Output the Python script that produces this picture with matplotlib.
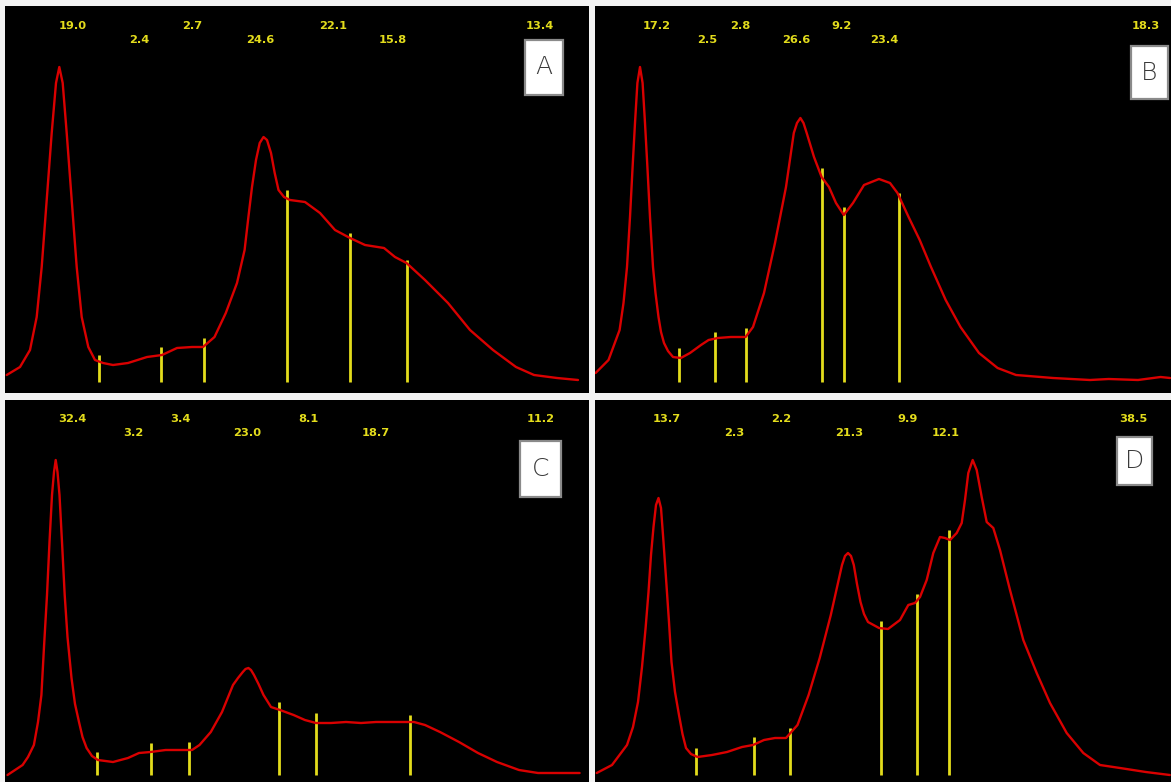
import matplotlib
matplotlib.use("Agg")
import matplotlib.pyplot as plt
from matplotlib.patches import Rectangle

# ---------------- data (panel-local units) ----------------
panels = ["A", "B", "C", "D"]

curve_a_x = [1.7, 15, 25, 31.7, 36.7, 41.7, 46.7, 51, 54.3, 57.7, 61.7, 66.7, 71.7, 76.7, 83.3, 90,
             98, 108, 123, 142, 157, 172, 187, 198, 209.5, 220.8, 232, 239.6, 243.4, 247, 251, 254.7,
             258.5, 262, 266, 269.7, 273.5, 279, 285, 300, 315, 330, 345, 360, 379, 390, 401.5, 420,
             443, 465, 488, 511, 529, 552, 573]
curve_a_y = [18, 26, 43, 76, 126, 193, 260, 310, 326, 310, 260, 193, 126, 76, 46, 33,
             30, 28, 30, 36, 38, 45, 46, 46, 56, 80, 110, 143, 176, 206, 233, 250,
             256, 253, 240, 220, 203, 196, 193, 191, 180, 163, 155, 148, 145, 136, 130, 113,
             90, 63, 43, 26, 18, 15, 13]

curve_b_x = [0.6, 13.5, 24.6, 28.5, 32, 35, 37.6, 40, 42.4, 45, 47.6, 50, 52.4, 55, 58, 60.5, 63.5,
             66, 69, 73, 78, 85.8, 95, 106, 113.6, 122.8, 135.8, 150.6, 158, 169, 180, 191, 198.8,
             202, 205.4, 208.5, 211.7, 219, 226.6, 234, 241, 248.8, 258, 269, 284, 295, 302.5, 313.6,
             324.7, 336, 350.7, 365.5, 384, 402.6, 421, 458, 495, 513.7, 543, 565.6, 575]
curve_b_y = [20, 33, 63, 90, 126, 176, 226, 270, 310, 326, 310, 270, 226, 176, 126, 100, 76,
             61, 50, 42, 36, 35, 40, 48, 53, 55, 56, 56, 66, 100, 150, 206, 260,
             270, 275, 270, 260, 236, 216, 206, 190, 178, 190, 208, 214, 210, 200, 176,
             153, 126, 93, 66, 40, 25, 18, 15, 13, 14, 13, 16, 15]

curve_c_x = [2.5, 17.6, 23, 28.9, 33, 36.4, 39, 42, 44.5, 47, 49, 50.7, 52.5, 54.5, 57, 59.7, 62.5,
             66.5, 70, 74, 77.5, 81.6, 87, 92.9, 108, 123, 134, 145.5, 160.6, 175.7, 187, 194.5,
             205.8, 217, 228, 233, 237.8, 240.5, 243.4, 246, 249, 253.5, 258.5, 266, 275, 288.6,
             299.9, 311, 326, 341, 356, 371, 390, 409, 420, 435, 454, 473, 492, 514, 533, 556, 574.6]
curve_c_y = [7, 17, 25, 37, 60, 87, 135, 187, 240, 287, 310, 322, 310, 287, 240, 187, 145,
             104, 78, 60, 45, 34, 26, 22, 20, 24, 29, 30, 32, 32, 32, 37,
             50, 70, 97, 104, 110, 113, 114, 112, 107, 98, 87, 75, 72, 67,
             62, 59, 59, 60, 59, 60, 60, 60, 57, 50, 40, 29, 20, 12, 9, 9, 9]

curve_d_x = [1.7, 17, 32, 38, 43, 47, 50.6, 53.5, 56, 58.5, 61, 63.5, 66, 68.5, 71, 74, 76.5, 80,
             84, 87.5, 91, 96, 102.5, 117, 132, 147, 158, 169, 180, 191, 202.5, 213.6, 224.7, 235.8,
             247, 250, 253, 256, 258.8, 262, 265.5, 269, 273, 284, 293, 305, 313.3, 320, 325, 331.7,
             338.3, 345, 350, 355, 361.7, 366.7, 370, 373.3, 377.7, 381.7, 386.7, 391.7, 398.3, 405,
             415, 428.3, 441.7, 455, 471.7, 488.3, 505, 525, 550.8, 574.8]
curve_d_y = [9, 17, 37, 55, 80, 115, 154, 190, 227, 255, 277, 284, 274, 240, 204, 160, 120, 90,
             67, 48, 34, 28, 25, 27, 30, 35, 37, 42, 44, 44, 57, 87, 124, 167,
             217, 226, 229, 226, 217, 198, 180, 168, 160, 154, 153, 162, 177, 179, 185, 202,
             229, 245, 244, 242, 249, 259, 282, 309, 322, 312, 285, 260, 254, 232,
             192, 142, 109, 79, 49, 29, 17, 14, 10, 7]

cuts_a_x = [94, 156, 199, 282, 345, 402]
cuts_a_top = [38, 46, 55, 203, 160, 133]
cuts_b_x = [84, 120, 151, 227, 249, 304]
cuts_b_top = [45, 61, 65, 225, 186, 200]
cuts_c_x = [91.7, 145.5, 184.3, 274, 311, 405]
cuts_c_top = [30, 39, 40, 80, 69, 67]
cuts_d_x = [101, 159, 195, 286, 322, 354]
cuts_d_top = [34, 45, 54, 161, 188, 252]

pct_a = ["19.0", "2.4", "2.7", "24.6", "22.1", "15.8", "13.4"]
pct_b = ["17.2", "2.5", "2.8", "26.6", "9.2", "23.4", "18.3"]
pct_c = ["32.4", "3.2", "3.4", "23.0", "8.1", "18.7", "11.2"]
pct_d = ["13.7", "2.3", "2.2", "21.3", "9.9", "12.1", "38.5"]

# ---------------- layout (pixels) ----------------
W, H = 1171, 782
layout = {
    # left, top, width, height of each black panel in figure pixels
    "A": dict(rect=(5, 6, 584, 387), cut_base=11, label_x=[68, 134, 187, 255, 328, 388, 535],
              label_top=20, box=(520, 298, 38, 55)),
    "B": dict(rect=(595, 6, 576, 387), cut_base=11, label_x=[62, 112, 145, 201, 247, 289.5, 551],
              label_top=20, box=(536, 294, 37, 53)),
    "C": dict(rect=(5, 400, 584, 382), cut_base=7, label_x=[67, 128.6, 175, 242, 303, 371, 536],
              label_top=19, box=(515, 285, 41, 56)),
    "D": dict(rect=(595, 400, 576, 382), cut_base=7, label_x=[72, 139.5, 186, 254, 313, 351, 538],
              label_top=19, box=(522, 297, 35, 48)),
}

series = {
    "A": (curve_a_x, curve_a_y, cuts_a_x, cuts_a_top, pct_a),
    "B": (curve_b_x, curve_b_y, cuts_b_x, cuts_b_top, pct_b),
    "C": (curve_c_x, curve_c_y, cuts_c_x, cuts_c_top, pct_c),
    "D": (curve_d_x, curve_d_y, cuts_d_x, cuts_d_top, pct_d),
}

RED = "#d90000"
YEL = "#e3dc1c"

fig = plt.figure(figsize=(W / 100, H / 100), dpi=100, facecolor="#f3f3f3")

for p in panels:
    lay = layout[p]
    l, t, w, h = lay["rect"]
    ax = fig.add_axes([l / W, (H - t - h) / H, w / W, h / H])
    ax.set_facecolor("black")
    ax.set_xlim(0, w)
    ax.set_ylim(0, h)
    for s in ax.spines.values():
        s.set_visible(False)
    ax.set_xticks([])
    ax.set_yticks([])

    cx, cy, kx, ktop, pct = series[p]
    ax.vlines(kx, lay["cut_base"], ktop, colors=YEL, linewidth=2.0, zorder=2)
    ax.plot(cx, cy, color=RED, linewidth=1.7, solid_joinstyle="round",
            solid_capstyle="round", zorder=3)

    for i, (lx, txt) in enumerate(zip(lay["label_x"], pct)):
        row = lay["label_top"] + (14 if i % 2 == 1 else 0)
        ax.text(lx, h - row, txt, color=YEL, fontsize=8.2, fontweight="bold",
                family="DejaVu Sans", ha="center", va="center", zorder=4)

    bx, by, bw, bh = lay["box"]
    ax.add_patch(Rectangle((bx, by), bw, bh, facecolor="white", edgecolor="#8a8a8a",
                           linewidth=1.6, zorder=5))
    ax.text(bx + bw / 2, by + bh / 2, p, color="#3a3a3a", fontsize=18,
            family="DejaVu Sans", fontweight="light", ha="center", va="center", zorder=6)

fig.savefig("out.png", dpi=100, facecolor=fig.get_facecolor())
